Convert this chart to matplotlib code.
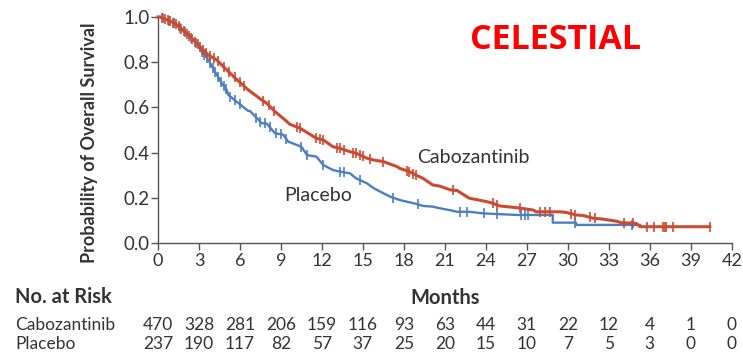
#!/usr/bin/env python3

import matplotlib.pyplot as plt
import matplotlib.transforms as mtransforms
import numpy as np

plt.rcParams["font.family"] = ["Lato", "DejaVu Sans"]

# Kaplan-Meier estimates (months, probability of overall survival)
cabo_t = [0, 0.15, 1.24, 1.85, 2.22, 2.95, 3.68, 4.3, 4.66, 5.64, 6.61, 7.59,
          7.96, 8.57, 9.15, 9.66, 10.4, 11.6, 12.1, 12.8, 13.3, 14.06, 14.5,
          15.3, 15.8, 16.5, 17.5, 17.7, 18.4, 18.9, 19.4, 20.1, 20.6, 21.4,
          21.9, 22.6, 22.8, 24.06, 24.5, 25.0, 26.3, 27.45, 27.7, 29.4, 29.9,
          30.6, 31.1, 31.9, 32.4, 33.6, 33.9, 35.0, 35.3, 40.4]
cabo_s = [1.0, 1.0, 0.972, 0.94, 0.92, 0.876, 0.832, 0.81, 0.788, 0.73, 0.677,
          0.633, 0.618, 0.581, 0.552, 0.525, 0.508, 0.463, 0.456, 0.426, 0.419,
          0.404, 0.397, 0.375, 0.367, 0.36, 0.338, 0.33, 0.316, 0.30, 0.286,
          0.257, 0.252, 0.235, 0.232, 0.205, 0.198, 0.183, 0.176, 0.164, 0.156,
          0.146, 0.138, 0.138, 0.135, 0.124, 0.122, 0.109, 0.107, 0.096, 0.09,
          0.087, 0.072, 0.072]

plac_t = [0, 0.15, 1.24, 1.85, 2.22, 2.95, 3.2, 3.56, 3.68, 4.17, 4.66, 5.03,
          5.15, 5.76, 6.61, 6.73, 7.59, 7.96, 8.57, 9.15, 9.54, 10.5, 10.9,
          11.6, 12.1, 12.8, 13.3, 14.06, 14.5, 15.3, 15.8, 16.5, 17.0, 17.7,
          18.2, 18.9, 19.4, 20.1, 20.6, 21.4, 21.9, 22.8, 23.8, 26.3, 28.9,
          28.9, 30.6, 30.6, 35.3]
plac_s = [1.0, 1.0, 0.972, 0.94, 0.92, 0.876, 0.846, 0.824, 0.81, 0.758, 0.707,
          0.677, 0.655, 0.625, 0.584, 0.584, 0.53, 0.528, 0.485, 0.48, 0.448,
          0.426, 0.389, 0.382, 0.345, 0.323, 0.316, 0.308, 0.286, 0.264, 0.242,
          0.22, 0.205, 0.19, 0.183, 0.173, 0.164, 0.161, 0.154, 0.145, 0.138,
          0.138, 0.131, 0.124, 0.124, 0.09, 0.09, 0.08, 0.08]

# censored observations (months)
cabo_cens = [0.3, 0.5, 0.7, 0.9, 1.1, 1.3, 1.5, 1.7, 1.9, 2.1, 2.3, 2.5, 2.7,
             2.9, 3.1, 3.3, 3.5, 3.8, 4.1, 4.4, 4.8, 5.2, 5.6, 6.0, 6.3, 7.7,
             8.1, 8.5, 10.15, 10.4, 11.6, 11.85, 12.1, 13.1, 13.3, 13.6, 14.3,
             14.5, 14.8, 15.0, 15.5, 16.5, 18.2, 18.4, 18.7, 18.9, 21.6, 24.5,
             24.8, 26.5, 28.0, 28.3, 28.7, 30.2, 30.5, 31.6, 32.0, 34.1, 34.8,
             35.8, 36.3, 37.0, 37.1, 37.2, 37.7, 40.4]
plac_cens = [0.4, 0.8, 1.2, 1.6, 2.0, 2.4, 2.8, 3.2, 3.4, 3.6, 3.8, 4.0, 4.2,
             4.4, 4.6, 4.8, 5.0, 5.3, 5.6, 6.0, 7.2, 7.5, 7.8, 8.2, 8.6, 9.0,
             9.4, 10.5, 10.9, 12.1, 13.3, 13.6, 14.8, 17.2, 19.0, 22.1, 22.6,
             23.9, 24.8, 26.6, 26.9, 27.1, 30.5, 34.7]

months = np.arange(0, 43, 3)
cabo_risk = [470, 328, 281, 206, 159, 116, 93, 63, 44, 31, 22, 12, 4, 1, 0]
plac_risk = [237, 190, 117, 82, 57, 37, 25, 20, 15, 10, 7, 5, 3, 0, 0]

red = "#cc4a30"
blue = "#4a7fc2"
ink = "#333333"

fig = plt.figure(figsize=(7.43, 3.54), dpi=100)
ax = fig.add_axes([0.2127, 0.3136, 0.7721, 0.6384])

ax.plot(plac_t, plac_s, color=blue, lw=1.7, zorder=3, clip_on=False)
ax.plot(cabo_t, cabo_s, color=red, lw=2.2, zorder=4, clip_on=False)
ax.plot(plac_cens, np.interp(plac_cens, plac_t, plac_s), ls="none",
        marker="|", ms=7.5, mew=1.2, color=blue, zorder=3, clip_on=False)
ax.plot(cabo_cens, np.interp(cabo_cens, cabo_t, cabo_s), ls="none",
        marker="|", ms=7.5, mew=1.2, color=red, zorder=4, clip_on=False)

ax.text(23.1, 0.38, "Cabozantinib", fontsize=14, color=ink, ha="center", va="center")
ax.text(11.7, 0.208, "Placebo", fontsize=14, color=ink, ha="center", va="center")

ax.set_xlim(0, 42)
ax.set_ylim(0, 1.0)
ax.set_xticks(months)
ax.set_yticks(np.arange(0, 1.01, 0.2))
ax.set_yticklabels([f"{v:.1f}" for v in np.arange(0, 1.01, 0.2)])
ax.spines[["top", "right"]].set_visible(False)
for s in ("left", "bottom"):
    ax.spines[s].set_color("#555555")
    ax.spines[s].set_linewidth(1.0)
ax.tick_params(axis="x", direction="out", length=5, width=1, color="#555555",
               labelsize=13, labelcolor=ink, pad=2)
ax.tick_params(axis="y", direction="out", length=5, width=1, color="#555555",
               labelsize=13.5, labelcolor=ink, pad=1)

fig.text(90 / 743, 0.598, "Probability of Overall Survival", rotation=90,
         fontsize=13, fontweight="bold", color=ink, ha="center", va="center")
fig.text(0.747, 0.887, "CELESTIAL", fontsize=24.5, fontweight="bold",
         color="#ff0000", ha="center", va="center", family="Open Sans")

# number-at-risk table under the axis
fig.text(15 / 743, 0.161, "No. at Risk", fontsize=14.5, fontweight="bold",
         color=ink, va="center")
trans = mtransforms.blended_transform_factory(ax.transData, fig.transFigure)
ax.text(21, 0.158, "Months", transform=trans, fontsize=14.5, fontweight="bold",
        color=ink, ha="center", va="center")
fig.text(15 / 743, 0.082, "Cabozantinib", fontsize=12.5, color=ink, va="center")
fig.text(15 / 743, 0.028, "Placebo", fontsize=12.5, color=ink, va="center")
for m, c, p in zip(months, cabo_risk, plac_risk):
    ax.text(m, 0.082, str(c), transform=trans, fontsize=12.5, color=ink,
            ha="center", va="center")
    ax.text(m, 0.028, str(p), transform=trans, fontsize=12.5, color=ink,
            ha="center", va="center")

fig.savefig("out.png", dpi=100)
